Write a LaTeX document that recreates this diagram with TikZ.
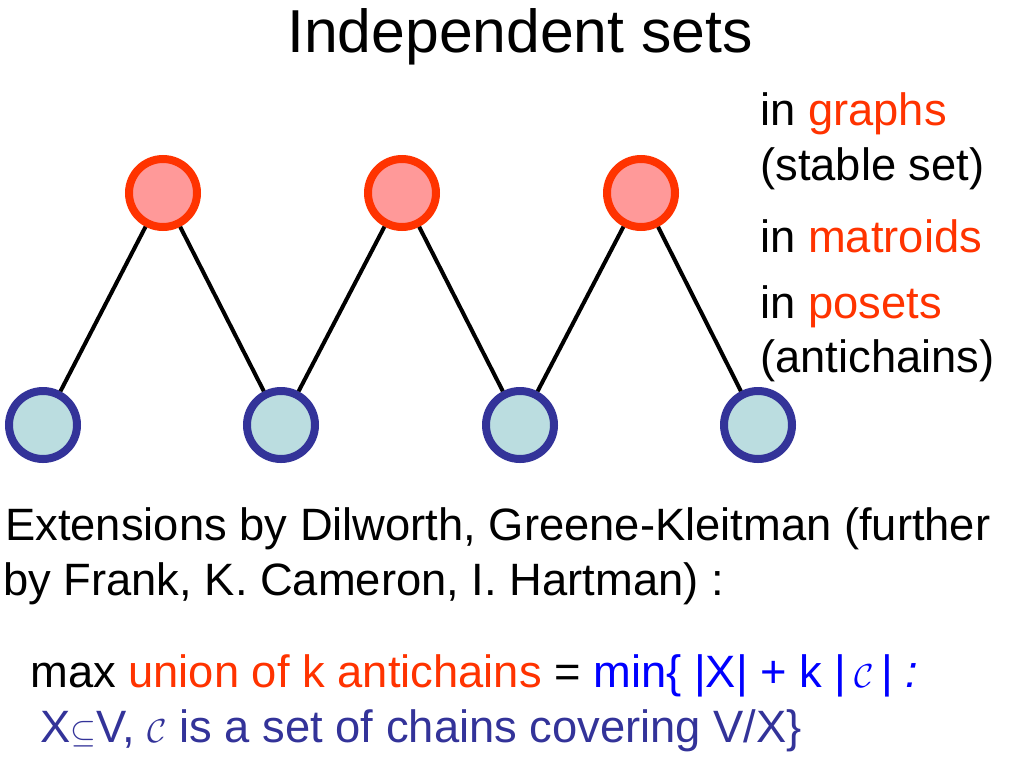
\documentclass[tikz,border=0pt]{standalone}
\usepackage{fontspec}
\setmainfont{Liberation Sans}
\definecolor{ored}{RGB}{255,51,0}
\definecolor{opink}{RGB}{255,153,153}
\definecolor{nblue}{RGB}{51,51,153}
\definecolor{lblue}{RGB}{187,221,224}
\newcommand{\bigcal}{{\fontsize{44}{50}\selectfont$\mathcal{C}$}}
\begin{document}
\begin{tikzpicture}[x=0.75pt,y=-0.75pt,
  top/.style={circle,draw=ored,fill=opink,line width=6pt,minimum size=51pt,inner sep=0pt},
  bot/.style={circle,draw=nblue,fill=lblue,line width=6pt,minimum size=51pt,inner sep=0pt},
  txt/.style={anchor=base west,inner sep=0pt,font=\fontsize{34}{40}\selectfont}]
\useasboundingbox (0,0) rectangle (1024,768);
\node[anchor=base,inner sep=0pt,font=\fontsize{45.5}{52}\selectfont] (title) at (520,52) {Independent sets};
% the zigzag
\foreach \i/\x in {1/163,2/402,3/641} \node[top] (t\i) at (\x,193) {};
\foreach \i/\x in {1/43,2/281,3/520,4/758} \node[bot] (b\i) at (\x,425) {};
\foreach \a/\b in {b1/t1,t1/b2,b2/t2,t2/b3,b3/t3,t3/b4} \draw[line width=3pt] (\a) -- (\b);
% right column
\node[txt] (graphs) at (760,125) {in \textcolor{ored}{graphs}};
\node[txt] (stable) at (760,180) {(stable set)};
\node[txt] (matroids) at (760,252) {in \textcolor{ored}{matroids}};
\node[txt] (posets) at (760,318) {in \textcolor{ored}{posets}};
\node[txt] (anti) at (760,372) {(antichains)};
% below
\node[txt] (ext1) at (5,540) {Extensions by Dilworth, Greene-Kleitman (further};
\node[txt] (ext2) at (3,595) {by Frank, K. Cameron, I. Hartman) :};
\node[txt] (form1) at (30,687) {max \textcolor{ored}{union of k antichains} = \textcolor{blue}{min\{ |X| + k |\,\bigcal\,| \textit{:}}};
\node[txt,text=nblue] (form2) at (40,742) {X{\fontsize{44}{50}\selectfont$\subseteq$}V, \bigcal\ is a set of chains covering V/X\}};
\end{tikzpicture}
\end{document}
